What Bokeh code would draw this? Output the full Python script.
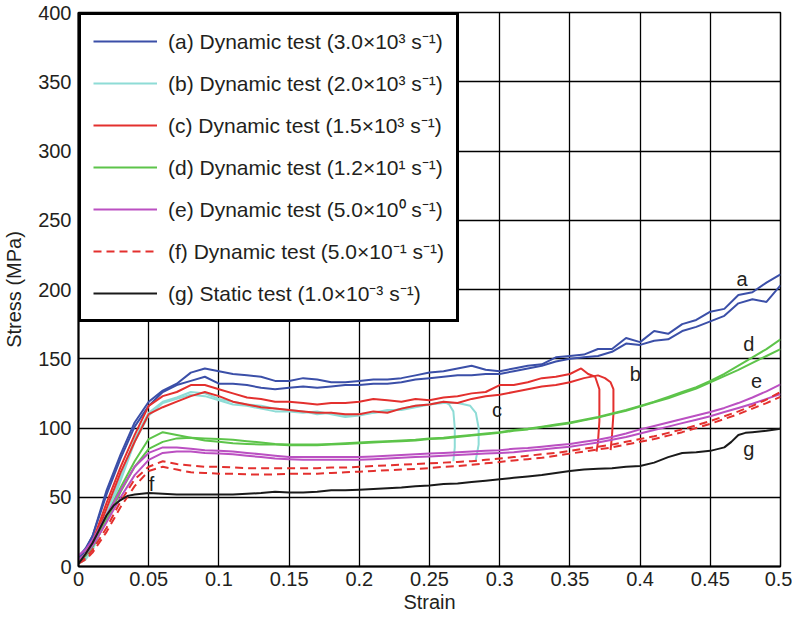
from bokeh.plotting import figure
from bokeh.models import Legend, LegendItem, FixedTicker, Range1d
from bokeh.embed import file_html
from bokeh.resources import INLINE
from bokeh.core.properties import value

# ---------------- data ----------------
strain_grid = [0, 0.005, 0.01, 0.02, 0.03, 0.04, 0.05, 0.06, 0.07, 0.08, 0.09,
               0.10, 0.11, 0.12, 0.13, 0.14, 0.15, 0.16, 0.17, 0.18, 0.19, 0.20,
               0.21, 0.22, 0.23, 0.24, 0.25, 0.26, 0.27, 0.28, 0.29, 0.30,
               0.31, 0.32, 0.33, 0.34, 0.35, 0.36, 0.37, 0.38, 0.39, 0.40,
               0.41, 0.42, 0.43, 0.44, 0.45, 0.46, 0.47, 0.48, 0.49, 0.50]

stress_a1 = [5, 12, 22, 55, 81, 104, 119, 127, 132, 140, 143, 141, 139, 138, 137, 134, 134,
             136, 135, 133, 133, 134, 135, 135, 136, 138, 140, 141, 143, 145, 142, 141,
             143, 145, 146, 151, 152, 153, 157, 157, 165, 162, 170, 168, 175, 178, 184,
             186, 196, 198, 205, 211]
stress_a2 = [7, 13, 22, 52, 78, 101, 116, 126, 131, 134, 137, 132, 132, 131, 129, 128, 129,
             130, 129, 130, 131, 131, 132, 132, 133, 135, 136, 137, 138, 138, 139, 139,
             141, 143, 145, 148, 150, 151, 152, 155, 161, 160, 163, 164, 170, 173, 177,
             181, 190, 193, 191, 203]

strain_b1 = [0, 0.005, 0.01, 0.02, 0.03, 0.04, 0.05, 0.06, 0.07, 0.08, 0.09, 0.10, 0.11,
             0.12, 0.13, 0.14, 0.15, 0.16, 0.17, 0.18, 0.19, 0.20, 0.21, 0.22, 0.23, 0.24,
             0.25, 0.26, 0.264, 0.267, 0.268, 0.268, 0.267]
stress_b1 = [3, 6, 14, 38, 65, 92, 111, 119, 122, 126, 125, 121, 119, 117, 116, 114, 113,
             112, 110, 111, 109, 110, 111, 113, 113, 115, 117, 119, 117, 112, 100, 86, 76]
strain_b2 = [0, 0.005, 0.01, 0.02, 0.03, 0.04, 0.05, 0.06, 0.07, 0.08, 0.09, 0.10, 0.11,
             0.12, 0.13, 0.14, 0.15, 0.16, 0.17, 0.18, 0.19, 0.20, 0.21, 0.22, 0.23, 0.24,
             0.25, 0.26, 0.27, 0.275, 0.279, 0.283, 0.285, 0.285, 0.283]
stress_b2 = [2, 5, 12, 35, 62, 90, 109, 118, 121, 124, 123, 120, 117, 116, 114, 112, 112,
             111, 112, 110, 108, 109, 111, 112, 114, 116, 117, 118, 118, 117, 116, 111,
             100, 88, 77]

strain_c1 = [0, 0.005, 0.01, 0.02, 0.03, 0.04, 0.05, 0.06, 0.07, 0.08, 0.09, 0.10, 0.11,
             0.12, 0.13, 0.14, 0.15, 0.16, 0.17, 0.18, 0.19, 0.20, 0.21, 0.22, 0.23, 0.24,
             0.25, 0.26, 0.27, 0.28, 0.29, 0.30, 0.31, 0.32, 0.33, 0.34, 0.35,
             0.358, 0.363, 0.368, 0.371, 0.371, 0.370, 0.369]
stress_c1 = [4, 9, 18, 46, 72, 95, 116, 123, 126, 131, 131, 128, 125, 122, 121, 119, 119,
             118, 117, 118, 118, 119, 121, 120, 119, 121, 120, 122, 123, 125, 126, 131,
             131, 133, 136, 137, 139, 143, 139, 137, 128, 105, 90, 83]
strain_c2 = [0, 0.005, 0.01, 0.02, 0.03, 0.04, 0.05, 0.06, 0.07, 0.08, 0.09, 0.10, 0.11,
             0.12, 0.13, 0.14, 0.15, 0.16, 0.17, 0.18, 0.19, 0.20, 0.21, 0.22, 0.23, 0.24,
             0.25, 0.26, 0.27, 0.28, 0.29, 0.30, 0.31, 0.32, 0.33, 0.34, 0.35, 0.36, 0.37,
             0.375, 0.379, 0.381, 0.381, 0.380, 0.379]
stress_c2 = [3, 8, 16, 42, 68, 90, 110, 115, 119, 123, 126, 123, 119, 117, 115, 114, 113,
             112, 111, 111, 110, 110, 112, 111, 114, 116, 117, 119, 118, 121, 123, 124,
             126, 128, 130, 131, 133, 136, 138, 136, 133, 128, 110, 95, 84]

stress_d1 = [5, 9, 16, 36, 57, 76, 92, 97, 95, 93, 91, 90, 89, 88.5, 88, 88, 87.5,
             87.5, 87.5, 88, 88.5, 89, 89.5, 90, 90.5, 91, 92, 92.5, 93.5, 94.5, 95.5, 96.5,
             98, 99, 100.5, 102, 103.5, 105.5, 107.5, 110, 112.5, 115.5, 118.5, 121.5, 125,
             128.5, 133, 137.5, 142, 147, 152, 157]
stress_d2 = [3, 8, 14, 33, 54, 72, 85, 90, 92.5, 93, 92.5, 92, 91.5, 90.5, 89.5, 88.5, 88,
             88, 88, 88.5, 89, 89.5, 90, 90.5, 91, 91.5, 92.5, 93, 94, 95, 96, 97,
             98.5, 99.5, 101, 102.5, 104, 106, 108, 110.5, 113, 116, 119, 122.5, 126,
             129.5, 134, 139, 145, 151, 157, 164]

stress_e1 = [8, 12, 19, 37, 55, 72, 82, 86, 86, 85, 84, 83.5, 83, 82, 81, 80, 79,
             79, 79, 79, 79, 79, 79.5, 80, 80.5, 81, 81.5, 82, 82.5, 83, 83.5, 84,
             85, 85.5, 86.5, 87.5, 88.5, 90, 91.5, 93.5, 96, 99, 101.5, 104, 106.5, 109,
             111.5, 114.5, 118, 122, 126.5, 131.5]
stress_e2 = [5, 9, 15, 32, 50, 66, 77, 82, 83, 83, 82, 81.5, 81, 80, 79, 78, 77.5,
             77, 77, 77, 77, 77, 77.5, 78, 78.5, 79, 79.5, 80, 80.5, 81, 81.5, 82,
             82.5, 83.5, 84.5, 85.5, 86.5, 88, 89.5, 91.5, 93.5, 96, 98.5, 101, 103.5, 106,
             108.5, 111.5, 114.5, 117.5, 121, 124.5]

stress_f1 = [3, 6, 12, 28, 47, 63, 72, 76, 74, 73, 72, 72, 71.5, 71, 71, 71, 71,
             71, 71, 71.5, 71.5, 72, 72.5, 73, 73.5, 74, 74.5, 75, 75.5, 76, 77, 78,
             79, 80, 81, 82, 83.5, 85, 86.5, 88, 90, 92, 94, 96.5, 99, 102, 105,
             108.5, 112, 116, 120.5, 126]
stress_f2 = [2, 5, 10, 25, 43, 58, 69, 72, 70, 68, 67.5, 67, 67, 66.5, 66.5, 66.5, 67,
             67, 67, 67.5, 68, 68.5, 69, 69.5, 70, 70.5, 71, 72, 72.5, 73.5, 74.5, 75.5,
             76.5, 77.5, 78.5, 80, 81.5, 83, 84.5, 86, 88, 90, 92, 94.5, 97, 100, 103,
             106.5, 110, 114, 118, 122.5]

strain_g = [0, 0.005, 0.01, 0.015, 0.02, 0.025, 0.03, 0.035, 0.04,
            0.05, 0.06, 0.07, 0.08, 0.09, 0.10, 0.11, 0.12, 0.13, 0.14, 0.15, 0.16, 0.17,
            0.18, 0.19, 0.20, 0.21, 0.22, 0.23, 0.24, 0.25, 0.26, 0.27, 0.28, 0.29, 0.30,
            0.31, 0.32, 0.33, 0.34, 0.35, 0.36, 0.37, 0.38, 0.39, 0.40, 0.41, 0.42, 0.43,
            0.44, 0.45, 0.46, 0.465, 0.47, 0.475, 0.48, 0.49, 0.50]
stress_g = [2, 9, 17, 27, 37, 44, 48, 51, 52,
            53, 52.5, 52, 52, 52, 52, 52, 52.5, 53, 54, 53.5, 53.5, 54,
            55, 55, 55.5, 56, 56.5, 57, 58, 58.5, 59.5, 60, 61, 62, 63,
            64, 65, 66, 67.5, 69, 70, 70.5, 71, 72, 72.5, 75, 79, 82,
            82.5, 83.5, 86, 90, 95, 96.5, 97, 98, 99.5]

legend_labels = ["(a) Dynamic test (3.0×10³ s⁻¹)",
                 "(b) Dynamic test (2.0×10³ s⁻¹)",
                 "(c) Dynamic test (1.5×10³ s⁻¹)",
                 "(d) Dynamic test (1.2×10¹ s⁻¹)",
                 "(e) Dynamic test (5.0×10⁰ s⁻¹)",
                 "(f) Dynamic test (5.0×10⁻¹ s⁻¹)",
                 "(g) Static test (1.0×10⁻³ s⁻¹)"]

curve_letters = ["a", "b", "c", "d", "e", "f", "g"]
letter_strain = [0.4726, 0.3966, 0.298, 0.4775, 0.483, 0.052, 0.4775]
letter_stress = [207.5, 138.8, 113, 161, 134, 59.7, 84.5]

x_ticks = [0, 0.05, 0.1, 0.15, 0.2, 0.25, 0.3, 0.35, 0.4, 0.45, 0.5]
x_tick_labels = ["0", "0.05", "0.1", "0.15", "0.2", "0.25", "0.3", "0.35", "0.4", "0.45", "0.5"]
y_ticks = [0, 50, 100, 150, 200, 250, 300, 350, 400]

# ---------------- styling ----------------
FONT = "Liberation Sans"
FS = "20px"
TXT = "#231f20"
c_blue = "#3b4fa8"
c_cyan = "#8edcd6"
c_red = "#e3302e"
c_green = "#5dc44a"
c_mag = "#bb50c2"
c_black = "#1a1a1a"

p = figure(width=792, height=615, output_backend="svg", toolbar_location=None,
           x_range=Range1d(0, 0.5), y_range=Range1d(0, 400),
           min_border_left=78, min_border_right=12, min_border_top=12, min_border_bottom=48,
           outline_line_color="black", outline_line_width=1.5,
           background_fill_color="white", border_fill_color="white")

p.xaxis.ticker = FixedTicker(ticks=x_ticks)
p.xaxis.major_label_overrides = dict(zip(x_ticks, x_tick_labels))
p.yaxis.ticker = FixedTicker(ticks=y_ticks)
p.xaxis.axis_label = "Strain"
p.yaxis.axis_label = "Stress (MPa)"
for ax in (p.xaxis, p.yaxis):
    ax.axis_line_color = "black"
    ax.axis_line_width = 2
    ax.major_tick_in = 0
    ax.major_tick_out = 0
    ax.minor_tick_in = 0
    ax.minor_tick_out = 0
    ax.major_label_text_font = FONT
    ax.major_label_text_font_size = FS
    ax.major_label_text_color = TXT
    ax.axis_label_text_font = FONT
    ax.axis_label_text_font_size = FS
    ax.axis_label_text_font_style = "normal"
    ax.axis_label_text_color = TXT
p.xaxis.major_label_standoff = 5
p.xaxis.axis_label_standoff = 2
p.yaxis.major_label_standoff = 7
p.yaxis.axis_label_standoff = 10

p.grid.grid_line_color = "black"
p.grid.grid_line_width = 1.3
p.grid.grid_line_alpha = 1.0

lw = 2
ra1 = p.line(strain_grid, stress_a1, line_color=c_blue, line_width=lw)
ra2 = p.line(strain_grid, stress_a2, line_color=c_blue, line_width=lw)
rb1 = p.line(strain_b1, stress_b1, line_color=c_cyan, line_width=lw)
rb2 = p.line(strain_b2, stress_b2, line_color=c_cyan, line_width=lw)
rc1 = p.line(strain_c1, stress_c1, line_color=c_red, line_width=lw)
rc2 = p.line(strain_c2, stress_c2, line_color=c_red, line_width=lw)
rd1 = p.line(strain_grid, stress_d1, line_color=c_green, line_width=lw)
rd2 = p.line(strain_grid, stress_d2, line_color=c_green, line_width=lw)
re1 = p.line(strain_grid, stress_e1, line_color=c_mag, line_width=lw)
re2 = p.line(strain_grid, stress_e2, line_color=c_mag, line_width=lw)
rf1 = p.line(strain_grid, stress_f1, line_color=c_red, line_width=lw, line_dash="8 5")
rf2 = p.line(strain_grid, stress_f2, line_color=c_red, line_width=lw, line_dash="8 5")
rg = p.line(strain_g, stress_g, line_color=c_black, line_width=lw)

p.text(x=letter_strain, y=letter_stress, text=curve_letters,
       text_font=value(FONT), text_font_size=FS, text_color=TXT,
       text_align="center", text_baseline="middle")

renderers = [ra1, rb1, rc1, rd1, re1, rf1, rg]
items = [LegendItem(label=lab, renderers=[r]) for lab, r in zip(legend_labels, renderers)]
legend = Legend(items=items, location="top_left", margin=0, padding=12,
                spacing=14, glyph_width=64, glyph_height=20, label_height=20,
                label_standoff=11,
                label_text_font=FONT, label_text_font_size="21px", label_text_color=TXT,
                border_line_color="black", border_line_width=3, border_line_alpha=1.0,
                background_fill_color="white", background_fill_alpha=1.0)
p.add_layout(legend)

open("out.html", "w").write(file_html(p, INLINE))
